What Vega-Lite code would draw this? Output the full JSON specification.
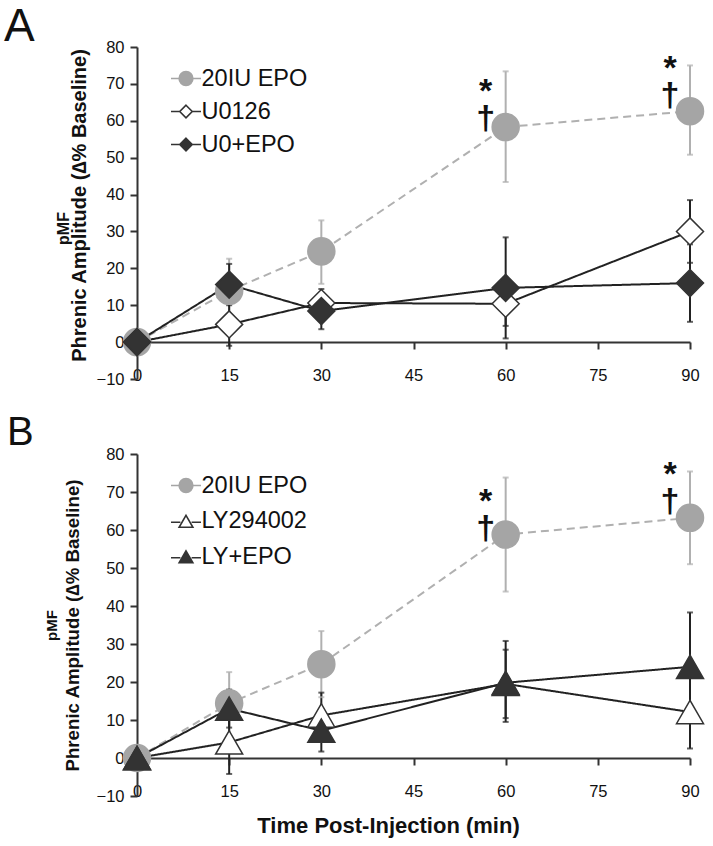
{
  "$schema": "https://vega.github.io/schema/vega-lite/v6.json",
  "background": "white",
  "padding": {"left": 4, "top": 4, "right": 10, "bottom": 6},
  "spacing": 25,
  "resolve": {
    "scale": {"color": "independent", "shape": "independent", "fill": "independent", "stroke": "independent", "strokeDash": "independent", "strokeWidth": "independent"},
    "legend": {"shape": "independent", "fill": "independent", "stroke": "independent", "color": "independent", "strokeDash": "independent", "strokeWidth": "independent"}
  },
  "config": {
    "view": {"stroke": null},
    "font": "Liberation Sans",
    "axis": {"grid": false, "domainColor": "#333", "domainWidth": 2, "tickColor": "#333", "tickWidth": 2, "labelFont": "Liberation Sans", "labelFontSize": 16.5, "labelColor": "#111", "titleFont": "Liberation Sans", "titleColor": "#111", "labelFlush": false},
    "legend": {"labelFont": "Liberation Sans", "labelFontSize": 23.5, "labelColor": "#111", "symbolSize": 625, "labelOffset": 2, "symbolStrokeWidth": 1.6, "symbolOpacity": 1}
  },
  "datasets": {
    "A": [
      {"series": "20IU EPO", "t": 0, "v": 0, "lo": 0, "hi": 0},
      {"series": "20IU EPO", "t": 15, "v": 13.9, "lo": 5, "hi": 22.6},
      {"series": "20IU EPO", "t": 30, "v": 24.6, "lo": 15.8, "hi": 33},
      {"series": "20IU EPO", "t": 60, "v": 58.3, "lo": 43.4, "hi": 73.4},
      {"series": "20IU EPO", "t": 90, "v": 62.6, "lo": 50.8, "hi": 75},
      {"series": "U0126", "t": 0, "v": 0, "lo": 0, "hi": 0},
      {"series": "U0126", "t": 15, "v": 4.8, "lo": -1, "hi": 10.6},
      {"series": "U0126", "t": 30, "v": 10.6, "lo": 6.8, "hi": 14.4},
      {"series": "U0126", "t": 60, "v": 10.4, "lo": 4.4, "hi": 16.4},
      {"series": "U0126", "t": 90, "v": 30, "lo": 21.5, "hi": 38.5},
      {"series": "U0+EPO", "t": 0, "v": 0, "lo": 0, "hi": 0},
      {"series": "U0+EPO", "t": 15, "v": 15.6, "lo": 10, "hi": 21.2},
      {"series": "U0+EPO", "t": 30, "v": 8.4, "lo": 3.5, "hi": 13.3},
      {"series": "U0+EPO", "t": 60, "v": 14.7, "lo": 1, "hi": 28.4},
      {"series": "U0+EPO", "t": 90, "v": 16, "lo": 5.5, "hi": 26.5}
    ],
    "B": [
      {"series": "20IU EPO", "t": 0, "v": 0, "lo": 0, "hi": 0},
      {"series": "20IU EPO", "t": 15, "v": 14.4, "lo": 5.8, "hi": 22.6},
      {"series": "20IU EPO", "t": 30, "v": 24.7, "lo": 16, "hi": 33.4},
      {"series": "20IU EPO", "t": 60, "v": 58.8, "lo": 43.8, "hi": 73.8},
      {"series": "20IU EPO", "t": 90, "v": 63.2, "lo": 51, "hi": 75.4},
      {"series": "LY294002", "t": 0, "v": 0, "lo": 0, "hi": 0},
      {"series": "LY294002", "t": 15, "v": 4.1, "lo": -4.2, "hi": 12.4},
      {"series": "LY294002", "t": 30, "v": 11.2, "lo": 5.2, "hi": 17.2},
      {"series": "LY294002", "t": 60, "v": 19.5, "lo": 10.5, "hi": 28.5},
      {"series": "LY294002", "t": 90, "v": 12.1, "lo": 2.5, "hi": 21.7},
      {"series": "LY+EPO", "t": 0, "v": 0, "lo": 0, "hi": 0},
      {"series": "LY+EPO", "t": 15, "v": 13, "lo": 8, "hi": 18},
      {"series": "LY+EPO", "t": 30, "v": 7.2, "lo": 1.7, "hi": 12.7},
      {"series": "LY+EPO", "t": 60, "v": 19.8, "lo": 9.5, "hi": 30.8},
      {"series": "LY+EPO", "t": 90, "v": 24, "lo": 9.7, "hi": 38.3}
    ],
    "annA": [
      {"t": 60, "v": 67.8, "s": "*\n†"},
      {"t": 90, "v": 74.1, "s": "*\n†"}
    ],
    "annB": [
      {"t": 60, "v": 67.5, "s": "*\n†"},
      {"t": 90, "v": 74.6, "s": "*\n†"}
    ]
  },
  "vconcat": [
    {
      "width": 553,
      "height": 332,
      "title": {"text": "A", "anchor": "start", "frame": "group", "fontSize": 46, "fontWeight": "normal", "font": "Liberation Sans", "color": "#111", "dx": -133, "offset": -12},
      "encoding": {
        "x": {"field": "t", "type": "quantitative", "scale": {"domain": [0, 90], "nice": false, "zero": false},
              "axis": {"values": [0, 15, 30, 45, 60, 75, 90], "offset": -37, "tickSize": 7, "labelPadding": 18, "title": null}}
      },
      "resolve": {"axis": {"y": "independent"}, "scale": {"shape": "independent", "fill": "independent", "stroke": "independent"}},
      "layer": [
        {
          "data": {"name": "A"},
          "transform": [{"filter": "datum.t > 0"}],
          "mark": {"type": "rule", "strokeWidth": 2},
          "encoding": {
            "y": {"field": "lo", "type": "quantitative", "scale": {"domain": [-10, 80], "nice": false},
                  "axis": {"values": [-10, 0, 10, 20, 30, 40, 50, 60, 70, 80], "tickSize": 7, "labelPadding": 6, "title": "Phrenic Amplitude (∆% Baseline)", "titleFontSize": 20, "titleFontWeight": "bold", "titlePadding": 7, "titleY": 158}},
            "y2": {"field": "hi"},
            "color": {"field": "series", "type": "nominal", "scale": {"domain": ["U0126", "U0+EPO", "20IU EPO"], "range": ["#222222", "#222222", "#b0b0b0"]}, "legend": null}
          }
        },
        {
          "data": {"name": "A"},
          "transform": [{"filter": "datum.t > 0"}, {"fold": ["lo", "hi"], "as": ["end", "ev"]}],
          "mark": {"type": "tick", "orient": "horizontal", "size": 6, "thickness": 2},
          "encoding": {
            "y": {"field": "ev", "type": "quantitative", "scale": {"domain": [-10, 80], "nice": false}, "axis": null},
            "color": {"field": "series", "type": "nominal", "scale": {"domain": ["U0126", "U0+EPO", "20IU EPO"], "range": ["#222222", "#222222", "#b0b0b0"]}, "legend": null}
          }
        },
        {
          "data": {"name": "A"},
          "mark": {"type": "line"},
          "encoding": {
            "y": {"field": "v", "type": "quantitative", "scale": {"domain": [-10, 80], "nice": false}, "axis": null},
            "color": {"field": "series", "type": "nominal", "scale": {"domain": ["U0126", "U0+EPO", "20IU EPO"], "range": ["#333333", "#333333", "#a8a8a8"]}, "legend": null},
            "strokeDash": {"field": "series", "type": "nominal", "scale": {"domain": ["U0126", "U0+EPO", "20IU EPO"], "range": [[1, 0], [1, 0], [8, 5]]}, "legend": null},
            "strokeWidth": {"field": "series", "type": "nominal", "scale": {"domain": ["U0126", "U0+EPO", "20IU EPO"], "range": [2, 2, 3.2]}, "legend": null}
          }
        },
        {
          "data": {"name": "A"},
          "mark": {"type": "point", "size": 730, "strokeWidth": 1.5, "opacity": 1},
          "encoding": {
            "y": {"field": "v", "type": "quantitative", "scale": {"domain": [-10, 80], "nice": false},
                  "axis": {"orient": "left", "domain": false, "ticks": false, "labels": false, "title": "pMF", "titleFontSize": 16, "titleFontWeight": "bold", "titlePadding": 66, "titleY": 181}},
            "shape": {"field": "series", "type": "nominal", "scale": {"domain": ["U0126", "U0+EPO", "20IU EPO"], "range": ["diamond", "diamond", "circle"]}, "legend": null},
            "fill": {"field": "series", "type": "nominal", "scale": {"domain": ["U0126", "U0+EPO", "20IU EPO"], "range": ["#ffffff", "#333333", "#a5a5a5"]}, "legend": null},
            "stroke": {"field": "series", "type": "nominal", "scale": {"domain": ["U0126", "U0+EPO", "20IU EPO"], "range": ["#333333", "#333333", "#a5a5a5"]}, "legend": null}
          }
        },
        {
          "data": {"name": "A"},
          "mark": {"type": "point", "size": 0, "strokeWidth": 0, "opacity": 1},
          "encoding": {
            "y": {"field": "v", "type": "quantitative", "scale": {"domain": [-10, 80], "nice": false}, "axis": null},
            "shape": {"field": "series", "type": "nominal", "scale": {"domain": ["20IU EPO", "U0126", "U0+EPO"], "range": ["M-1.2,0H-0.55M1.2,0H0.55M0.55,0A0.55,0.55,0,1,1,-0.55,0A0.55,0.55,0,1,1,0.55,0Z", "M-1.2,0H-0.5M1.2,0H0.5M0,-0.5L0.5,0L0,0.5L-0.5,0Z", "M-1.2,0H-0.5M1.2,0H0.5M0,-0.5L0.5,0L0,0.5L-0.5,0Z"]},
                      "legend": {"orient": "none", "legendX": 35.5, "legendY": 18, "title": null, "rowPadding": 8, "symbolOpacity": 1}},
            "fill": {"field": "series", "type": "nominal", "scale": {"domain": ["20IU EPO", "U0126", "U0+EPO"], "range": ["#a5a5a5", "#ffffff", "#333333"]}},
            "stroke": {"field": "series", "type": "nominal", "scale": {"domain": ["20IU EPO", "U0126", "U0+EPO"], "range": ["#a5a5a5", "#333333", "#333333"]}}
          }
        },
        {
          "data": {"name": "annA"},
          "mark": {"type": "text", "fontSize": 34, "fontWeight": "bold", "font": "Liberation Sans", "color": "#111", "dx": -20, "baseline": "middle", "align": "center", "lineBreak": "\n", "lineHeight": 27},
          "encoding": {
            "y": {"field": "v", "type": "quantitative", "scale": {"domain": [-10, 80], "nice": false}, "axis": null},
            "text": {"field": "s"}
          }
        }
      ]
    },
    {
      "width": 553,
      "height": 342,
      "title": {"text": "B", "anchor": "start", "frame": "group", "fontSize": 40, "fontWeight": "normal", "font": "Liberation Sans", "color": "#111", "dx": -130, "offset": -7},
      "encoding": {
        "x": {"field": "t", "type": "quantitative", "scale": {"domain": [0, 90], "nice": false, "zero": false},
              "axis": {"values": [0, 15, 30, 45, 60, 75, 90], "offset": -38, "tickSize": 7, "labelPadding": 18, "title": "Time Post-Injection (min)", "titleFontSize": 22, "titleFontWeight": "bold", "titlePadding": 16, "titleX": 251}}
      },
      "resolve": {"axis": {"y": "independent"}, "scale": {"shape": "independent", "fill": "independent", "stroke": "independent"}},
      "layer": [
        {
          "data": {"name": "B"},
          "transform": [{"filter": "datum.t > 0"}],
          "mark": {"type": "rule", "strokeWidth": 2},
          "encoding": {
            "y": {"field": "lo", "type": "quantitative", "scale": {"domain": [-10, 80], "nice": false},
                  "axis": {"values": [-10, 0, 10, 20, 30, 40, 50, 60, 70, 80], "tickSize": 7, "labelPadding": 6, "title": "Phrenic Amplitude (∆% Baseline)", "titleFontSize": 18.7, "titleFontWeight": "bold", "titlePadding": 14}},
            "y2": {"field": "hi"},
            "color": {"field": "series", "type": "nominal", "scale": {"domain": ["LY294002", "LY+EPO", "20IU EPO"], "range": ["#222222", "#222222", "#b0b0b0"]}, "legend": null}
          }
        },
        {
          "data": {"name": "B"},
          "transform": [{"filter": "datum.t > 0"}, {"fold": ["lo", "hi"], "as": ["end", "ev"]}],
          "mark": {"type": "tick", "orient": "horizontal", "size": 6, "thickness": 2},
          "encoding": {
            "y": {"field": "ev", "type": "quantitative", "scale": {"domain": [-10, 80], "nice": false}, "axis": null},
            "color": {"field": "series", "type": "nominal", "scale": {"domain": ["LY294002", "LY+EPO", "20IU EPO"], "range": ["#222222", "#222222", "#b0b0b0"]}, "legend": null}
          }
        },
        {
          "data": {"name": "B"},
          "mark": {"type": "line"},
          "encoding": {
            "y": {"field": "v", "type": "quantitative", "scale": {"domain": [-10, 80], "nice": false}, "axis": null},
            "color": {"field": "series", "type": "nominal", "scale": {"domain": ["LY294002", "LY+EPO", "20IU EPO"], "range": ["#333333", "#333333", "#a8a8a8"]}, "legend": null},
            "strokeDash": {"field": "series", "type": "nominal", "scale": {"domain": ["LY294002", "LY+EPO", "20IU EPO"], "range": [[1, 0], [1, 0], [8, 5]]}, "legend": null},
            "strokeWidth": {"field": "series", "type": "nominal", "scale": {"domain": ["LY294002", "LY+EPO", "20IU EPO"], "range": [2, 2, 3.2]}, "legend": null}
          }
        },
        {
          "data": {"name": "B"},
          "mark": {"type": "point", "size": 730, "strokeWidth": 1.5, "opacity": 1},
          "encoding": {
            "y": {"field": "v", "type": "quantitative", "scale": {"domain": [-10, 80], "nice": false},
                  "axis": {"orient": "left", "domain": false, "ticks": false, "labels": false, "title": "pMF", "titleFontSize": 15, "titleFontWeight": "bold", "titlePadding": 78}},
            "shape": {"field": "series", "type": "nominal", "scale": {"domain": ["LY294002", "LY+EPO", "20IU EPO"], "range": ["triangle-up", "triangle-up", "circle"]}, "legend": null},
            "fill": {"field": "series", "type": "nominal", "scale": {"domain": ["LY294002", "LY+EPO", "20IU EPO"], "range": ["#ffffff", "#333333", "#a5a5a5"]}, "legend": null},
            "stroke": {"field": "series", "type": "nominal", "scale": {"domain": ["LY294002", "LY+EPO", "20IU EPO"], "range": ["#333333", "#333333", "#a5a5a5"]}, "legend": null}
          }
        },
        {
          "data": {"name": "B"},
          "mark": {"type": "point", "size": 0, "strokeWidth": 0, "opacity": 1},
          "encoding": {
            "y": {"field": "v", "type": "quantitative", "scale": {"domain": [-10, 80], "nice": false}, "axis": null},
            "shape": {"field": "series", "type": "nominal", "scale": {"domain": ["20IU EPO", "LY294002", "LY+EPO"], "range": ["M-1.2,0H-0.55M1.2,0H0.55M0.55,0A0.55,0.55,0,1,1,-0.55,0A0.55,0.55,0,1,1,0.55,0Z", "M-1.2,0.1H-0.45M1.2,0.1H0.45M0,-0.45L0.55,0.5L-0.55,0.5Z", "M-1.2,0.1H-0.45M1.2,0.1H0.45M0,-0.45L0.55,0.5L-0.55,0.5Z"]},
                      "legend": {"orient": "none", "legendX": 35.5, "legendY": 18, "title": null, "rowPadding": 10.5, "symbolOpacity": 1}},
            "fill": {"field": "series", "type": "nominal", "scale": {"domain": ["20IU EPO", "LY294002", "LY+EPO"], "range": ["#a5a5a5", "#ffffff", "#333333"]}},
            "stroke": {"field": "series", "type": "nominal", "scale": {"domain": ["20IU EPO", "LY294002", "LY+EPO"], "range": ["#a5a5a5", "#333333", "#333333"]}}
          }
        },
        {
          "data": {"name": "annB"},
          "mark": {"type": "text", "fontSize": 34, "fontWeight": "bold", "font": "Liberation Sans", "color": "#111", "dx": -20, "baseline": "middle", "align": "center", "lineBreak": "\n", "lineHeight": 27},
          "encoding": {
            "y": {"field": "v", "type": "quantitative", "scale": {"domain": [-10, 80], "nice": false}, "axis": null},
            "text": {"field": "s"}
          }
        }
      ]
    }
  ]
}
